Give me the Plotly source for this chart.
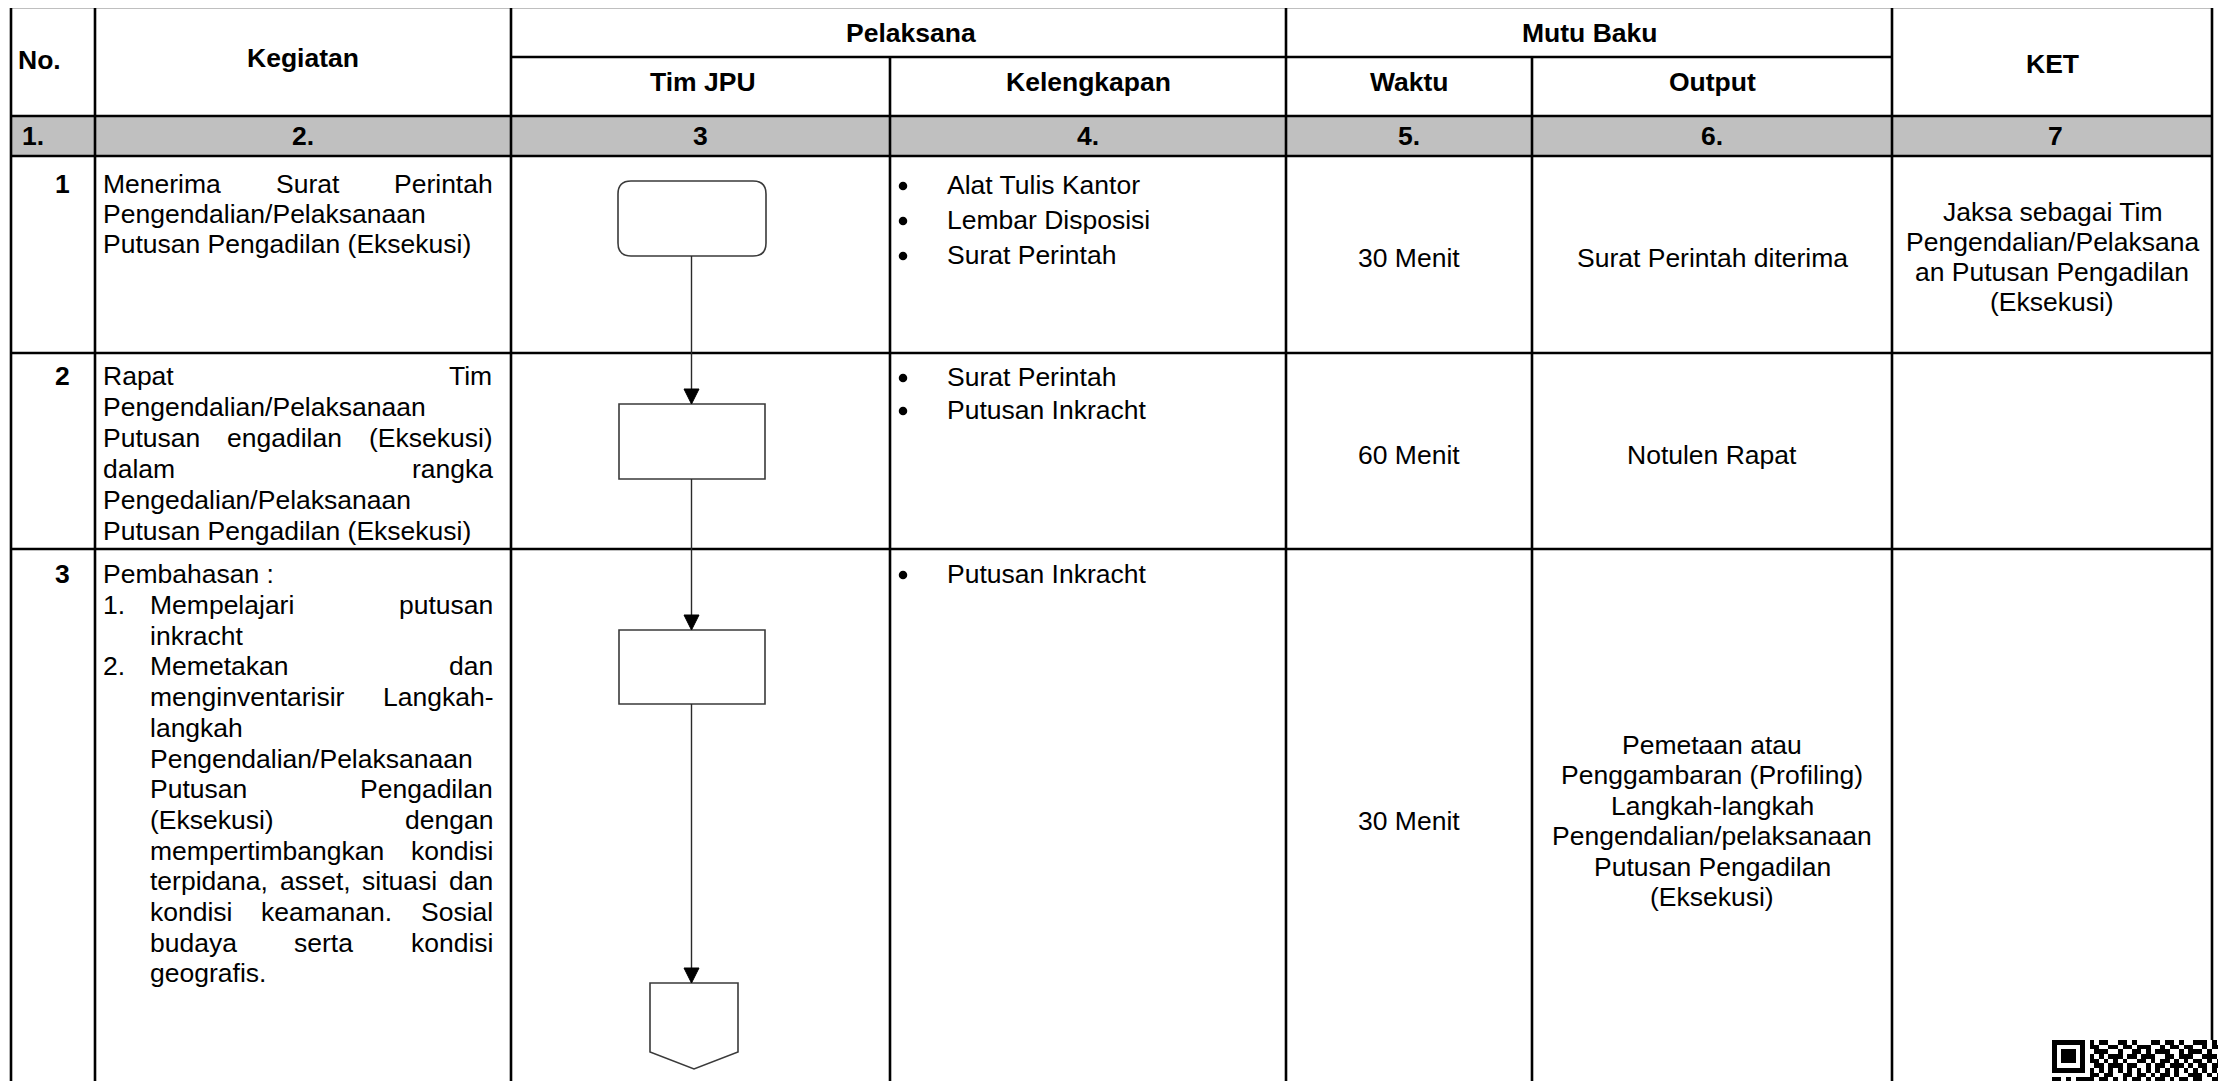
import plotly.graph_objects as go

# ---------------- DATA ----------------
header_top = ["No.", "Kegiatan", "Pelaksana", "Mutu Baku", "KET"]
header_sub = ["Tim JPU", "Kelengkapan", "Waktu", "Output"]
col_numbers = ["1.", "2.", "3", "4.", "5.", "6.", "7"]
step_numbers = ["1", "2", "3"]

# (text, mode)  J = justified line, L = left aligned line
kegiatan_1 = [("Menerima Surat Perintah", "J"),
              ("Pengendalian/Pelaksanaan", "L"),
              ("Putusan Pengadilan (Eksekusi)", "L")]
kegiatan_2 = [("Rapat Tim", "J"),
              ("Pengendalian/Pelaksanaan", "L"),
              ("Putusan engadilan (Eksekusi)", "J"),
              ("dalam rangka", "J"),
              ("Pengedalian/Pelaksanaan", "L"),
              ("Putusan Pengadilan (Eksekusi)", "L")]
kegiatan_3_head = "Pembahasan :"
kegiatan_3_list = [("1.", "Mempelajari putusan", "J"),
                   ("", "inkracht", "L"),
                   ("2.", "Memetakan dan", "J"),
                   ("", "menginventarisir Langkah-", "J"),
                   ("", "langkah", "L"),
                   ("", "Pengendalian/Pelaksanaan", "L"),
                   ("", "Putusan Pengadilan", "J"),
                   ("", "(Eksekusi) dengan", "J"),
                   ("", "mempertimbangkan kondisi", "J"),
                   ("", "terpidana, asset, situasi dan", "J"),
                   ("", "kondisi keamanan. Sosial", "J"),
                   ("", "budaya serta kondisi", "J"),
                   ("", "geografis.", "L")]

kelengkapan = [["Alat Tulis Kantor", "Lembar Disposisi", "Surat Perintah"],
               ["Surat Perintah", "Putusan Inkracht"],
               ["Putusan Inkracht"]]
waktu = ["30 Menit", "60 Menit", "30 Menit"]
output = [["Surat Perintah diterima"],
          ["Notulen Rapat"],
          ["Pemetaan atau", "Penggambaran (Profiling)", "Langkah-langkah",
           "Pengendalian/pelaksanaan", "Putusan Pengadilan", "(Eksekusi)"]]
ket = [["Jaksa sebagai Tim", "Pengendalian/Pelaksana", "an Putusan Pengadilan", "(Eksekusi)"],
       [], []]

qr_rows = [
    "1111111010110011010001101101001110101",
    "1000001011001101101110010110110010111",
    "1011101001110010011010111001011101001",
    "1011101010101110110111001101110011101",
    "1011101011010101001101011010101101011",
    "1000001001101110110010110111010110110",
    "1111111010101010101010101010101010101",
    "0000000011011001101101011010011101011",
    "1101011110110101011010110101101100111",
]

# ---------------- LAYOUT GEOMETRY ----------------
W, H = 2226, 1081
PAGE_OFF = 8  # default body margin of the html page
COLS = [11, 95, 511, 890, 1286, 1532, 1892, 2212]
Y_TOP, Y_SUB, Y_HEAD, Y_GRAY, Y_R1, Y_R2 = 7, 57, 116, 156, 353, 549
FS = 26.5
FONT = "Liberation Sans, Arial, sans-serif"
LINE_W = 2.6
LH = 31

AW = {' ': 278, '(': 333, ')': 333, ',': 278, '-': 333, '.': 278, '/': 278, ':': 278,
      'A': 667, 'B': 667, 'C': 722, 'D': 722, 'E': 667, 'F': 611, 'G': 778, 'H': 722,
      'I': 278, 'J': 500, 'K': 667, 'L': 556, 'M': 833, 'N': 722, 'O': 778, 'P': 667,
      'R': 722, 'S': 667, 'T': 611, 'U': 722,
      'a': 556, 'b': 556, 'c': 500, 'd': 556, 'e': 556, 'f': 278, 'g': 556, 'h': 556,
      'i': 222, 'j': 222, 'k': 500, 'l': 222, 'm': 833, 'n': 556, 'o': 556, 'p': 556,
      'q': 556, 'r': 333, 's': 500, 't': 278, 'u': 556, 'v': 500, 'w': 722, 'x': 500,
      'y': 500, 'z': 500}


def tw(s, size=FS):
    return sum(AW.get(c, 556) for c in s) * size / 1000.0


annotations = []


def text(x, y, s, anchor="center", bold=False, size=FS):
    if bold:
        s = "<b>" + s + "</b>"
    annotations.append(dict(x=x, y=y, xref="x", yref="y", text=s, showarrow=False,
                            xanchor=anchor, yanchor="middle", borderpad=0, borderwidth=0,
                            font=dict(family=FONT, size=size, color="black")))


def line_text(x0, x1, y, s, mode):
    words = s.split()
    if mode == "J" and len(words) > 1:
        total = sum(tw(w) for w in words)
        gap = (x1 - x0 - total) / (len(words) - 1)
        x = x0
        for w in words:
            text(x, y, w, anchor="left")
            x += tw(w) + gap
    else:
        text(x0, y, s, anchor="left")


shapes = []


def hline(y, x0, x1, w=LINE_W, color="black", layer="below"):
    shapes.append(dict(type="line", x0=x0, x1=x1, y0=y, y1=y, xref="x", yref="y",
                       layer=layer, line=dict(color=color, width=w)))


def vline(x, y0, y1, w=LINE_W, color="black", layer="below"):
    shapes.append(dict(type="line", x0=x, x1=x, y0=y0, y1=y1, xref="x", yref="y",
                       layer=layer, line=dict(color=color, width=w)))


# gray numbering row
shapes.append(dict(type="rect", x0=COLS[0], x1=COLS[-1], y0=Y_HEAD, y1=Y_GRAY,
                   xref="x", yref="y", layer="below", fillcolor="#c0c0c0",
                   line=dict(width=0)))

# table grid
for y in [Y_TOP, Y_HEAD, Y_GRAY, Y_R1, Y_R2]:
    hline(y, COLS[0], COLS[-1])
hline(Y_SUB, COLS[2], COLS[6])
for i, x in enumerate(COLS):
    y0 = Y_SUB if i in (3, 5) else Y_TOP
    vline(x, y0, H + 20)

# ---------------- HEADER TEXT ----------------
text(18, 60, header_top[0], anchor="left", bold=True)
text(303, 58, header_top[1], bold=True)
text(911, 33, header_top[2], bold=True)
text(1589, 33, header_top[3], bold=True)
text(2052, 64, header_top[4], bold=True)
sub_x = [703, 1088, 1409, 1712]
for s, x in zip(header_sub, sub_x):
    text(x, 82, s, bold=True)

num_x = [22, 303, 700, 1088, 1409, 1712, 2055]
for i, (s, x) in enumerate(zip(col_numbers, num_x)):
    text(x, 136, s, anchor="left" if i == 0 else "center", bold=True)

# step numbers
for s, y in zip(step_numbers, [184, 376, 574]):
    text(70, y, s, anchor="right", bold=True)

# ---------------- KEGIATAN ----------------
KX0, KX1 = 103, 493
for k, (s, m) in enumerate(kegiatan_1):
    line_text(KX0, KX1, 184 + 30 * k, s, m)
for k, (s, m) in enumerate(kegiatan_2):
    line_text(KX0, KX1, 376 + LH * k, s, m)
text(KX0, 574, kegiatan_3_head, anchor="left")
for k, (num, s, m) in enumerate(kegiatan_3_list):
    y = 605 + 30.7 * k
    if num:
        text(KX0, y, num, anchor="left")
    line_text(150, KX1, y, s, m)

# ---------------- KELENGKAPAN ----------------
kel_y0 = [185, 377, 574]
kel_step = [35, 33, 33]
bx, by = [], []
for r, items in enumerate(kelengkapan):
    for k, s in enumerate(items):
        y = kel_y0[r] + kel_step[r] * k
        bx.append(903)
        by.append(y + 1)
        text(947, y, s, anchor="left")

# ---------------- WAKTU / OUTPUT / KET ----------------
row_center = [258, 455, 821]
for s, y in zip(waktu, row_center):
    text(1409, y, s)
out_step = [30, 30, 30.5]
for r, lines in enumerate(output):
    n = len(lines)
    for k, s in enumerate(lines):
        text(1712, row_center[r] + (k - (n - 1) / 2) * out_step[r], s)
ket_center = [257, 451, 821]
for r, lines in enumerate(ket):
    n = len(lines)
    for k, s in enumerate(lines):
        text(2052, ket_center[r] + (k - (n - 1) / 2) * 30, s)

# ---------------- FLOWCHART (Tim JPU) ----------------
FX = 691.5
FLC = "#2a2a2a"
BOX = dict(color="#3a3a3a", width=1.6)
tx0, tx1, ty0, ty1, rr = 618, 766, 181, 256, 13
shapes.append(dict(type="path", xref="x", yref="y", layer="above", line=BOX, fillcolor="white",
                   path=(f"M{tx0+rr},{ty0} L{tx1-rr},{ty0} Q{tx1},{ty0} {tx1},{ty0+rr} "
                         f"L{tx1},{ty1-rr} Q{tx1},{ty1} {tx1-rr},{ty1} L{tx0+rr},{ty1} "
                         f"Q{tx0},{ty1} {tx0},{ty1-rr} L{tx0},{ty0+rr} Q{tx0},{ty0} {tx0+rr},{ty0} Z")))
for (y0, y1) in [(404, 479), (630, 704)]:
    shapes.append(dict(type="rect", x0=619, x1=765, y0=y0, y1=y1, xref="x", yref="y",
                       layer="above", line=BOX, fillcolor="white"))
shapes.append(dict(type="path", xref="x", yref="y", layer="above", line=BOX, fillcolor="white",
                   path="M650,983 L738,983 L738,1052 L694,1069 L650,1052 Z"))
for (ya, yb) in [(256, 404), (479, 630), (704, 983)]:
    vline(FX, ya, yb - 14, w=1.4, color=FLC, layer="above")
    shapes.append(dict(type="path", xref="x", yref="y", layer="above",
                       line=dict(color="black", width=1), fillcolor="black",
                       path=f"M{FX-7.5},{yb-15} L{FX+7.5},{yb-15} L{FX},{yb} Z"))

# ---------------- QR CODE (partial, bottom right) ----------------
MOD = 4.7
qr_z = [[int(c) for c in row] for row in qr_rows]
qr = go.Heatmap(z=qr_z, x0=2052 + MOD / 2, dx=MOD, y0=1040 + MOD / 2, dy=MOD,
                colorscale=[[0, "white"], [1, "black"]], zmin=0, zmax=1,
                showscale=False, hoverinfo="skip", zsmooth=False)

bullets = go.Scatter(x=bx, y=by, mode="markers", hoverinfo="skip",
                     marker=dict(symbol="circle", size=8.5, color="black"))

fig = go.Figure(data=[qr, bullets])
fig.update_layout(
    width=W, height=H, margin=dict(l=0, r=0, t=0, b=0),
    paper_bgcolor="white", plot_bgcolor="white",
    xaxis=dict(range=[PAGE_OFF, W + PAGE_OFF], visible=False, fixedrange=True),
    yaxis=dict(range=[H + PAGE_OFF, PAGE_OFF], visible=False, fixedrange=True),
    shapes=shapes, annotations=annotations, showlegend=False,
)
fig.write_html("out.html")
